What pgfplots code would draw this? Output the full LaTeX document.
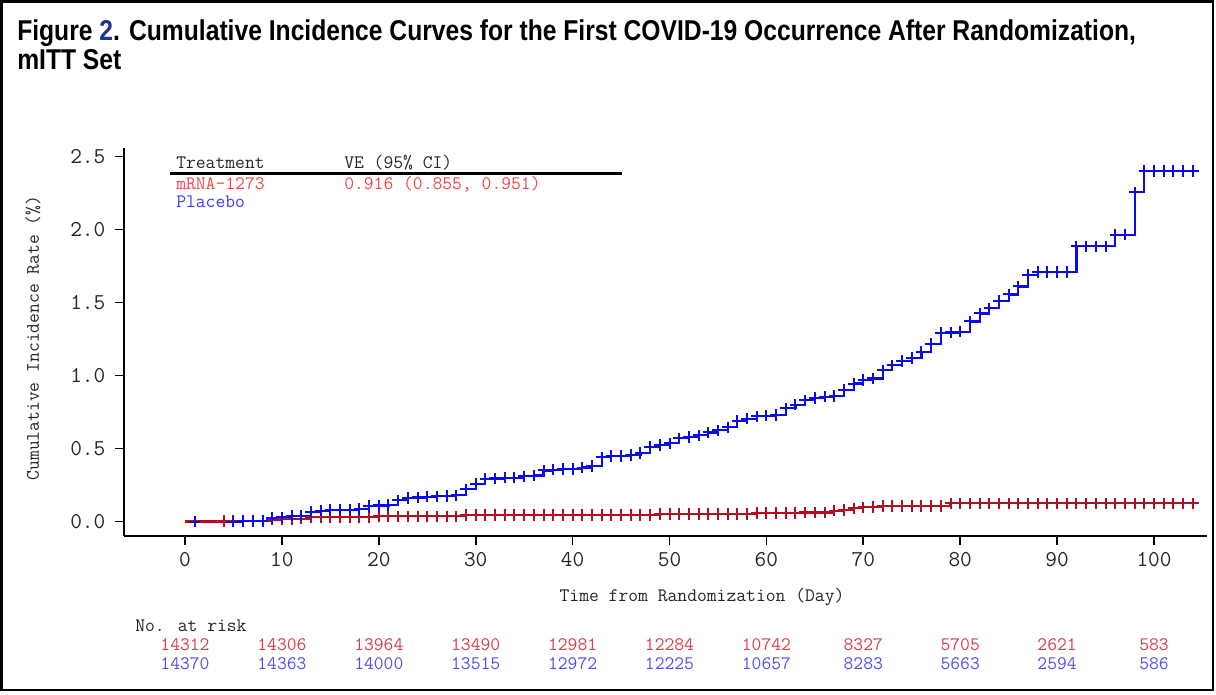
\documentclass[border=0pt]{standalone}
\usepackage{pgfplots}
\pgfplotsset{compat=1.18}
\usepackage{pgfplotstable}
\usepackage{graphicx}
\usepackage{fontspec}
\setmainfont{Liberation Sans}
\newcommand\mono{\ttfamily}
\definecolor{redline}{RGB}{180,12,32}
\definecolor{blueline}{RGB}{10,10,240}
\definecolor{redtext}{RGB}{220,60,75}
\definecolor{bluetext}{RGB}{80,80,245}
\definecolor{legred}{RGB}{245,70,70}
\definecolor{legblue}{RGB}{60,60,250}
\definecolor{titleblue}{RGB}{30,50,150}

\pgfplotstableread{
day val
0 0
1 0
2 0
3 0
4 0
5 0
6 0.005
7 0.005
8 0.005
9 0.025
10 0.028
11 0.04
12 0.04
13 0.065
14 0.075
15 0.082
16 0.082
17 0.082
18 0.085
19 0.105
20 0.11
21 0.112
22 0.145
23 0.16
24 0.165
25 0.17
26 0.172
27 0.175
28 0.18
29 0.22
30 0.26
31 0.29
32 0.295
33 0.30
34 0.30
35 0.31
36 0.315
37 0.35
38 0.355
39 0.36
40 0.36
41 0.37
42 0.38
43 0.44
44 0.45
45 0.45
46 0.455
47 0.47
48 0.51
49 0.525
50 0.535
51 0.57
52 0.58
53 0.59
54 0.61
55 0.625
56 0.645
57 0.69
58 0.705
59 0.72
60 0.725
61 0.73
62 0.775
63 0.80
64 0.83
65 0.845
66 0.855
67 0.86
68 0.90
69 0.945
70 0.97
71 0.98
72 1.035
73 1.07
74 1.10
75 1.12
76 1.16
77 1.215
78 1.29
79 1.295
80 1.30
81 1.37
82 1.425
83 1.46
84 1.51
85 1.555
86 1.61
87 1.69
88 1.71
89 1.71
90 1.71
91 1.71
92 1.885
93 1.885
94 1.885
95 1.885
96 1.965
97 1.965
98 2.255
99 2.40
100 2.40
101 2.40
102 2.40
103 2.40
104 2.40
104.4 2.40
}\bluetab

\pgfplotstableread{
day val
0 0
1 0
2 0
3 0
4 0.003
5 0.003
6 0.003
7 0.003
8 0.003
9 0.013
10 0.015
11 0.015
12 0.02
13 0.03
14 0.032
15 0.032
16 0.032
17 0.032
18 0.032
19 0.032
20 0.036
21 0.036
22 0.036
23 0.036
24 0.036
25 0.036
26 0.036
27 0.036
28 0.036
29 0.045
30 0.046
31 0.046
32 0.046
33 0.046
34 0.046
35 0.046
36 0.046
37 0.046
38 0.046
39 0.046
40 0.046
41 0.046
42 0.046
43 0.046
44 0.046
45 0.046
46 0.046
47 0.046
48 0.046
49 0.052
50 0.052
51 0.052
52 0.052
53 0.052
54 0.052
55 0.052
56 0.052
57 0.052
58 0.052
59 0.058
60 0.058
61 0.058
62 0.058
63 0.058
64 0.062
65 0.062
66 0.062
67 0.075
68 0.08
69 0.09
70 0.097
71 0.10
72 0.105
73 0.105
74 0.105
75 0.105
76 0.105
77 0.105
78 0.105
79 0.125
80 0.125
81 0.125
82 0.125
83 0.125
84 0.125
85 0.125
86 0.125
87 0.125
88 0.125
89 0.125
90 0.125
91 0.125
92 0.125
93 0.125
94 0.125
95 0.125
96 0.125
97 0.125
98 0.125
99 0.125
100 0.125
101 0.125
102 0.125
103 0.125
104 0.125
104.4 0.125
}\redtab

\begin{document}
\begin{tikzpicture}
\useasboundingbox (0,0) rectangle (912pt,520.5pt);
\draw[line width=1.8pt] (1.2pt,3pt) rectangle (909.8pt,519.3pt);

% title
\node[anchor=base west, inner sep=0pt] at (12.75pt,489.75pt)
  {\scalebox{0.86}[1]{\fontsize{21.5}{25}\selectfont\bfseries Figure {\color{titleblue}2}. Cumulative Incidence Curves for the First COVID-19 Occurrence After Randomization,}};
\node[anchor=base west, inner sep=0pt] at (12.75pt,468pt)
  {\scalebox{0.86}[1]{\fontsize{21.5}{25}\selectfont\bfseries mITT Set}};

\begin{axis}[
  at={(93pt,118.5pt)}, anchor=south west,
  scale only axis, width=812.25pt, height=291pt,
  xmin=-6.295, xmax=105.47, ymin=-0.099, ymax=2.558,
  axis x line*=bottom, axis y line*=left,
  axis line style={line width=1.3pt, black, -},
  every outer x axis line/.append style={-},
  every outer y axis line/.append style={-},
  tick align=outside, major tick length=6.5pt,
  tick style={line width=1.3pt, black},
  xtick={0,10,...,100}, ytick={0,0.5,1,1.5,2,2.5},
  y tick label style={/pgf/number format/fixed, /pgf/number format/fixed zerofill, /pgf/number format/precision=1},
  /pgf/number format/assume math mode=true,
  ticklabel style={font=\mono\fontsize{17}{20}\selectfont, text=black!85},
  yticklabel style={xshift=-4pt},
  xticklabel style={yshift=-2pt},
  clip=false,
]
\addplot[const plot, blueline, line width=1.6pt, no marks] table[x=day, y=val] {\bluetab};
\addplot[const plot, redline, line width=1.6pt, no marks] table[x=day, y=val] {\redtab};
\addplot[only marks, mark=+, mark size=4.3pt, redline, mark options={line width=1.5pt},
  skip coords between index={0}{4}, skip coords between index={105}{106}] table[x=day, y=val] {\redtab};
\addplot[only marks, mark=+, mark size=4.3pt, blueline, mark options={line width=1.5pt},
  skip coords between index={0}{1}, skip coords between index={2}{5}, skip coords between index={105}{106}] table[x=day, y=val] {\bluetab};
\end{axis}

% axis labels
\node[anchor=base, inner sep=0pt, text=black!85, font=\mono\fontsize{14.3}{17}\selectfont] at (526.5pt,69.75pt) {Time from Randomization (Day)};
\node[rotate=90, inner sep=0pt, text=black!85, font=\mono\fontsize{14.3}{17}\selectfont] at (24.75pt,267pt) {Cumulative Incidence Rate (\%)};

% legend
\begin{scope}[every node/.style={anchor=base west, inner sep=0pt, font=\mono\fontsize{14.3}{17}\selectfont}]
\node[text=black!85] at (132pt,393.75pt) {Treatment};
\node[text=black!85] at (258pt,393.75pt) {VE (95\% CI)};
\node[text=legred] at (132pt,378.75pt) {mRNA-1273};
\node[text=legred] at (258pt,378.75pt) {0.916 (0.855, 0.951)};
\node[text=legblue] at (132pt,365.25pt) {Placebo};
\end{scope}
\draw[line width=2pt] (127.5pt,390.5pt) -- (466.3pt,390.5pt);

% number at risk
\begin{scope}[every node/.style={anchor=base, inner sep=0pt, font=\mono\fontsize{14.3}{17}\selectfont}]
\node[anchor=base west, text=black!85] at (101.25pt,47.25pt) {No. at risk};
\foreach \k/\n in {0/14312,1/14306,2/13964,3/13490,4/12981,5/12284,6/10742,7/8327,8/5705,9/2621,10/583}
  \node[text=redtext] at ({(185+96.9*\k)*0.75pt},33pt) {\n};
\foreach \k/\n in {0/14370,1/14363,2/14000,3/13515,4/12972,5/12225,6/10657,7/8283,8/5663,9/2594,10/586}
  \node[text=bluetext] at ({(185+96.9*\k)*0.75pt},18.75pt) {\n};
\end{scope}
\end{tikzpicture}
\end{document}
